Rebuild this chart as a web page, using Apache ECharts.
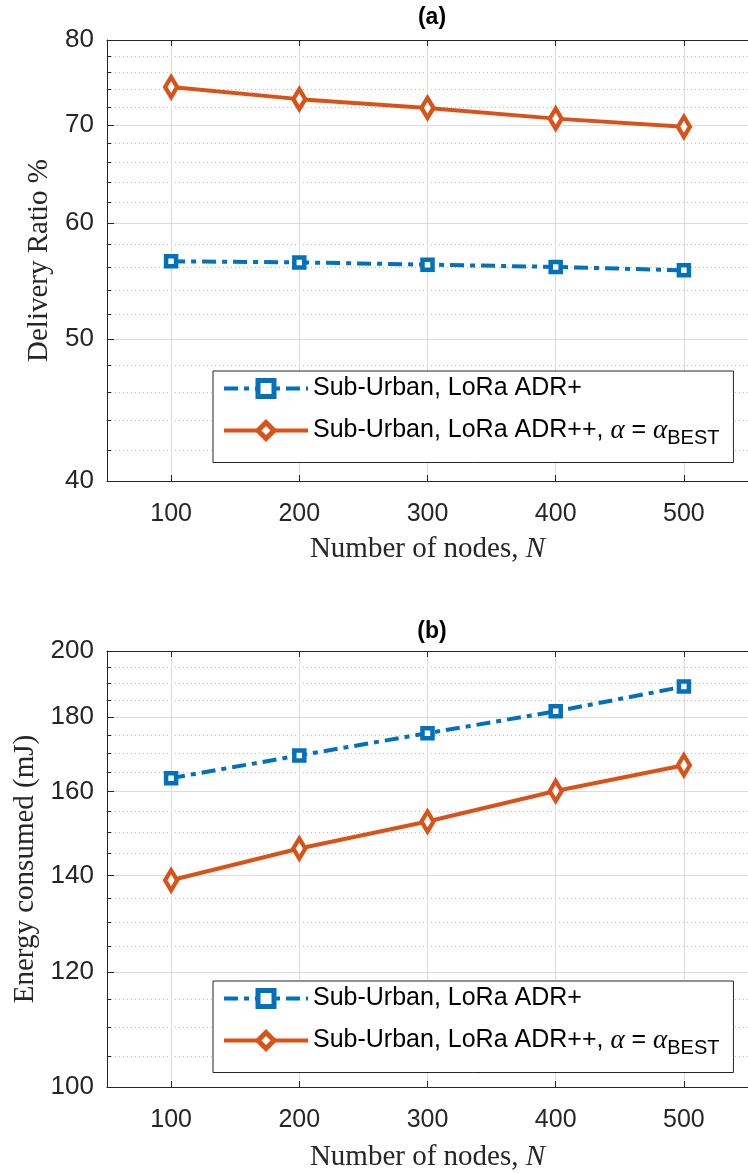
<!DOCTYPE html>
<html><head><meta charset="utf-8">
<script src="https://cdn.jsdelivr.net/npm/echarts@6/dist/echarts.min.js"></script>
<style>html,body{margin:0;padding:0;background:#fff}#c{width:748px;height:1173px}</style>
</head><body><div id="c"></div>
<script>
// ---- data ----
const nodes = [100, 200, 300, 400, 500];
const xTicks = [100, 200, 300, 400, 500];
const drAdrPlus = [56.5, 56.4, 56.2, 56.0, 55.7];
const drAdrPP = [74.3, 72.9, 71.9, 70.7, 69.8];
const enAdrPlus = [163.4, 169.4, 175.5, 181.7, 189.0];
const enAdrPP = [138.9, 146.1, 152.5, 160.1, 166.8];
const drTicks = [40, 50, 60, 70, 80];
const drMinorTicks = [42, 44, 46, 48, 52, 54, 56, 58, 62, 64, 66, 68, 72, 74, 76, 78];
const enTicks = [100, 120, 140, 160, 180, 200];
const enMinorTicks = [105, 110, 115, 125, 130, 135, 145, 150, 155, 165, 170, 175, 185, 190, 195];
const nameAdrPlus = 'Sub-Urban, LoRa ADR+';
const nameAdrPP = 'Sub-Urban, LoRa ADR++, α = αBEST';

const BLUE = '#0072BD', ORANGE = '#D95319', AX = '#262626';
const SANS = 'Liberation Sans, Arial, Helvetica, sans-serif';
const SERIF = 'Liberation Serif, Times New Roman, serif';

function xAxisPair(gi, gap) {
  const common = {
    gridIndex: gi, type: 'value', min: 50, max: 550,
    axisLine: {show: true, lineStyle: {color: AX, width: 1}},
    axisTick: {show: true, inside: true, length: 6, customValues: xTicks, lineStyle: {color: AX}},
  };
  return [
    Object.assign({}, common, {
      position: 'bottom',
      axisLabel: {show: true, customValues: xTicks, fontSize: 25, fontFamily: SANS, color: AX, margin: 21},
      splitLine: {show: true, lineStyle: {color: '#dcdcdc', width: 1}},
      name: '{n|Number of nodes, }{i|N}', nameLocation: 'middle', nameGap: gap,
      nameTextStyle: {rich: {
        n: {fontSize: 29, fontFamily: SERIF, color: AX},
        i: {fontSize: 29, fontFamily: SERIF, fontStyle: 'italic', color: AX}
      }}
    }),
    Object.assign({}, common, {
      position: 'top', axisLabel: {show: false}, splitLine: {show: false}
    })
  ];
}
function yAxisPair(gi, min, max, ticks, minor, name, gap) {
  return [
    {
      gridIndex: gi, type: 'log', logBase: 10, min: min, max: max, position: 'left',
      axisLine: {show: true, lineStyle: {color: AX, width: 1}},
      axisTick: {show: true, inside: true, length: 7, customValues: ticks, lineStyle: {color: AX}},
      axisLabel: {show: true, customValues: ticks, fontSize: 26, fontFamily: SANS, color: AX, margin: 13},
      splitLine: {show: true, lineStyle: {color: '#dcdcdc', width: 1}},
      minorTick: {show: false}, minorSplitLine: {show: false},
      name: name, nameLocation: 'middle', nameGap: gap,
      nameTextStyle: {fontSize: 29, fontFamily: SERIF, color: AX}
    },
    {
      gridIndex: gi, type: 'log', logBase: 10, min: min, max: max, position: 'left',
      axisLine: {show: false},
      axisTick: {show: true, inside: true, length: 4, customValues: minor, lineStyle: {color: AX}},
      axisLabel: {show: false},
      splitLine: {show: true, lineStyle: {color: '#bcbcbc', width: 1, type: [1, 3]}}
    }
  ];
}
function pairs(xs, ys) { return xs.map((x, i) => [x, ys[i]]); }
function blueSeries(xi, yi, vals) {
  return {
    name: nameAdrPlus, type: 'line', xAxisIndex: xi, yAxisIndex: yi,
    data: pairs(nodes, vals), symbol: 'rect', symbolSize: 10,
    lineStyle: {color: BLUE, width: 4, type: [14, 6, 5, 6]},
    itemStyle: {color: '#fff', borderColor: BLUE, borderWidth: 4.5},
    emphasis: {disabled: true},
    animation: false, z: 3
  };
}
function orangeSeries(xi, yi, vals) {
  return {
    name: nameAdrPP, type: 'line', xAxisIndex: xi, yAxisIndex: yi,
    data: pairs(nodes, vals), symbol: 'diamond', symbolSize: [12, 20],
    lineStyle: {color: ORANGE, width: 4},
    itemStyle: {color: '#fff', borderColor: ORANGE, borderWidth: 4.5},
    emphasis: {disabled: true},
    animation: false, z: 4
  };
}
function legendAt(top) {
  return {
    orient: 'vertical', left: 213, top: top, selectedMode: false,
    data: [nameAdrPlus, nameAdrPP],
    itemWidth: 84, itemHeight: 20, itemGap: 16,
    padding: [5, 14, 14, 9],
    borderColor: AX, borderWidth: 1, backgroundColor: '#fff',
    lineStyle: {width: 4},
    itemStyle: {borderWidth: 5},
    formatter: n => n === nameAdrPP
      ? '{t|Sub-Urban, LoRa ADR++, }{g|α}{t| = }{g|α}{s|BEST}'
      : '{t|' + n + '}',
    textStyle: {
      fontSize: 25, fontFamily: SANS, color: '#000',
      rich: {
        t: {fontSize: 25, fontFamily: SANS, color: '#000'},
        g: {fontSize: 27, fontFamily: SERIF, fontStyle: 'italic', color: '#000'},
        s: {fontSize: 20, fontFamily: SANS, color: '#000', padding: [16, 0, 0, 0]}
      }
    }
  };
}

const chart = echarts.init(document.getElementById('c'), null, {renderer: 'canvas'});
chart.setOption({
  animation: false,
  backgroundColor: '#fff',
  grid: [
    {left: 107, right: -10, top: 40, height: 441},
    {left: 107, right: -10, top: 651, height: 439}
  ],
  xAxis: [].concat(xAxisPair(0, 54), xAxisPair(1, 56)),
  yAxis: [].concat(
    yAxisPair(0, 40, 80, drTicks, drMinorTicks, 'Delivery Ratio %', 53),
    yAxisPair(1, 100, 200, enTicks, enMinorTicks, 'Energy consumed (mJ)', 67)
  ),
  legend: [legendAt(371), legendAt(981)],
  series: [
    blueSeries(0, 0, drAdrPlus),
    orangeSeries(0, 0, drAdrPP),
    blueSeries(2, 2, enAdrPlus),
    orangeSeries(2, 2, enAdrPP)
  ],
  graphic: [
    {type: 'text', x: 432, y: 18, style: {text: '(a)', textAlign: 'center', textVerticalAlign: 'middle', font: 'bold 23px ' + SANS, fill: '#000'}},
    {type: 'text', x: 432, y: 632, style: {text: '(b)', textAlign: 'center', textVerticalAlign: 'middle', font: 'bold 23px ' + SANS, fill: '#000'}}
  ]
});
</script></body></html>
